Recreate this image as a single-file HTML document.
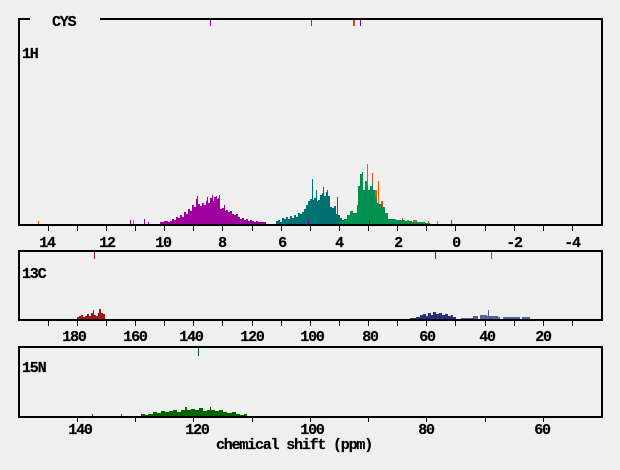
<!DOCTYPE html>
<html>
<head>
<meta charset="utf-8">
<style>
html,body{margin:0;padding:0;background:#efefef;}
svg{display:block;}
text{font-family:"Liberation Mono","DejaVu Sans Mono",monospace;font-weight:bold;font-size:15px;fill:#000;stroke:#000;stroke-width:0.2px;letter-spacing:-1.2px;}
</style>
</head>
<body>
<svg width="620" height="470" viewBox="0 0 620 470" xmlns="http://www.w3.org/2000/svg">
<rect width="620" height="470" fill="#efefef"/>

<g shape-rendering="crispEdges">
<rect x="38" y="221" width="1" height="3" fill="#ff5000"/>
<rect x="130" y="220" width="1" height="4" fill="#a000a0"/>
<rect x="133" y="220" width="1" height="4" fill="#ff5000"/>
<rect x="144" y="219" width="1" height="5" fill="#a000a0"/>
<rect x="148" y="222" width="1" height="2" fill="#a000a0"/>
<rect x="428" y="221" width="1" height="3" fill="#ff5000"/>
<rect x="437" y="221" width="1" height="3" fill="#ff5000"/>
<rect x="451" y="220" width="1" height="4" fill="#007070"/>
</g>

<path fill="#a000a0" shape-rendering="crispEdges" d="M160 224 V222 H164 V221 H168 V222 H170 V221 H172 V219 H174 V220 H176 V217 H178 V218 H180 V215 H182 V217 H184 V212 H186 V214 H188 V209 H190 V211 H192 V205 H194 V207 H196 V199 H198 V204 H200 V206 H202 V203 H204 V205 H206 V201 H208 V203 H210 V198 H212 V201 H214 V197 H216 V199 H218 V198 H220 V209 H222 V208 H224 V211 H226 V210 H228 V212 H230 V211 H232 V214 H234 V215 H236 V214 H238 V217 H240 V219 H242 V218 H244 V220 H246 V219 H248 V221 H250 V220 H252 V221 H254 V222 H256 V221 H258 V222 H266 V224 Z"/>
<g fill="#a000a0" shape-rendering="crispEdges">
<rect x="197" y="196" width="1" height="28"/>
<rect x="207" y="197" width="1" height="27"/>
<rect x="212" y="195" width="1" height="29"/>
<rect x="216" y="196" width="1" height="28"/>
<rect x="219" y="195" width="1" height="29"/>
<rect x="224" y="205" width="1" height="19"/>
</g>

<path fill="#007070" shape-rendering="crispEdges" d="M276 224 V221 H278 V220 H280 V222 H282 V218 H284 V219 H286 V217 H288 V219 H290 V216 H292 V218 H294 V215 H296 V217 H298 V213 H300 V214 H302 V212 H304 V209 H306 V205 H308 V201 H310 V199 H312 V200 H314 V198 H316 V201 H318 V200 H320 V195 H322 V193 H324 V196 H326 V192 H328 V196 H330 V207 H332 V208 H334 V206 H336 V214 H338 V215 H340 V218 H342 V220 H344 V221 H347 V224 Z"/>
<g fill="#007070" shape-rendering="crispEdges">
<rect x="312" y="179" width="1" height="45"/>
<rect x="316" y="190" width="1" height="34"/>
<rect x="323" y="187" width="1" height="37"/>
<rect x="327" y="190" width="1" height="34"/>
<rect x="337" y="197" width="1" height="27"/>
</g>

<g fill="#ff5000" shape-rendering="crispEdges">
<rect x="362" y="185" width="1" height="39"/>
<rect x="367" y="164" width="1" height="60"/>
<rect x="372" y="173" width="1" height="51"/>
<rect x="374" y="190" width="3" height="34"/>
<rect x="378" y="181" width="1" height="43"/>
<rect x="381" y="201" width="2" height="23"/>
<rect x="386" y="216" width="1" height="8"/>
<rect x="395" y="219" width="1" height="5"/>
<rect x="402" y="218" width="1" height="6"/>
<rect x="407" y="220" width="2" height="4"/>
<rect x="413" y="220" width="4" height="4"/>
</g>

<path fill="#009050" shape-rendering="crispEdges" d="M340 224 V221 H344 V219 H347 V215 H350 V211 H353 V213 H357 V205 H358 V186 H360 V174 H362 V190 H365 V181 H367 V186 H368 V190 H370 V186 H372 V182 H373 V190 H375 V197 H377 V203 H379 V204 H382 V207 H385 V213 H388 V219 H395 V220 H405 V221 H412 V222 H425 V223 H430 V224 Z"/>
<rect x="362" y="172" width="1" height="52" fill="#009050"/>
<g fill="#7000b0" shape-rendering="crispEdges">
<rect x="308" y="220" width="1" height="4"/>
<rect x="369" y="220" width="1" height="4"/>
</g>

<g shape-rendering="crispEdges">
<rect x="210" y="20" width="1" height="6" fill="#a000a0"/>
<rect x="311" y="20" width="1" height="6" fill="#007070"/>
<rect x="353" y="20" width="1" height="6" fill="#009050"/>
<rect x="354" y="20" width="1" height="6" fill="#ff5000"/>
<rect x="360" y="20" width="1" height="6" fill="#7000b0"/>
</g>

<path fill="#a01818" shape-rendering="crispEdges" d="M77 320 V317 H79 V316 H81 V315 H83 V317 H85 V316 H87 V314 H89 V316 H91 V313 H93 V310 H94 V315 H96 V316 H98 V313 H99 V309 H101 V313 H103 V314 H105 V320 Z"/>
<rect x="94" y="252" width="1" height="7" fill="#a01818"/>
<path fill="#2c2c80" shape-rendering="crispEdges" d="M410 320 V318 H416 V317 H420 V315 H423 V314 H426 V316 H428 V313 H431 V315 H433 V312 H436 V314 H439 V313 H442 V315 H445 V314 H448 V316 H451 V315 H453 V317 H456 V320 Z"/>
<rect x="435" y="252" width="1" height="7" fill="#2c2c80"/>
<path fill="#50609a" shape-rendering="crispEdges" d="M461 320 V318 H473 V316 H478 V320 H480 V315 H487 V316 H488 V310 H489 V316 H498 V317 H500 V320 H503 V317 H520 V320 H522 V317 H530 V320 Z"/>
<rect x="491" y="252" width="1" height="7" fill="#50609a"/>

<g fill="#006400" shape-rendering="crispEdges">
<rect x="92" y="414" width="1" height="2"/>
<rect x="121" y="414" width="1" height="2"/>
<path d="M141 416 V414 H145 V415 H148 V414 H153 V412 H157 V413 H161 V411 H165 V412 H169 V411 H173 V410 H177 V412 H181 V410 H185 V407 H187 V410 H191 V409 H195 V410 H199 V408 H203 V411 H207 V410 H210 V407 H211 V410 H215 V411 H219 V410 H223 V412 H227 V413 H232 V412 H236 V414 H240 V415 H244 V414 H247 V416 Z"/>
<rect x="198" y="348" width="1" height="8"/>
</g>

<path d="M30 19 H19 V225 H602 V19 H100" fill="none" stroke="#000" stroke-width="2" shape-rendering="crispEdges"/>
<rect x="19" y="251" width="583" height="69" fill="none" stroke="#000" stroke-width="2" shape-rendering="crispEdges"/>
<rect x="19" y="347" width="583" height="70" fill="none" stroke="#000" stroke-width="2" shape-rendering="crispEdges"/>

<g stroke="#000" stroke-width="1" shape-rendering="crispEdges">
<path d="M48.5 226V231 M77.5 226V231 M106.5 226V231 M135.5 226V231 M164.5 226V231 M193.5 226V231 M222.5 226V231 M252.5 226V231 M281.5 226V231 M310.5 226V231 M339.5 226V231 M368.5 226V231 M397.5 226V231 M426.5 226V231 M455.5 226V231 M485.5 226V231 M514.5 226V231 M543.5 226V231 M572.5 226V231"/>
<path d="M48.5 321V326 M77.5 321V326 M106.5 321V326 M135.5 321V326 M164.5 321V326 M193.5 321V326 M222.5 321V326 M252.5 321V326 M281.5 321V326 M310.5 321V326 M339.5 321V326 M368.5 321V326 M397.5 321V326 M426.5 321V326 M455.5 321V326 M485.5 321V326 M514.5 321V326 M543.5 321V326 M572.5 321V326"/>
<path d="M77.5 418V422 M135.5 418V422 M193.5 418V422 M252.5 418V422 M310.5 418V422 M368.5 418V422 M426.5 418V422 M485.5 418V422 M543.5 418V422"/>
</g>

<text x="52" y="26">CYS</text>
<text x="22" y="58">1H</text>
<text x="22" y="278">13C</text>
<text x="22" y="372">15N</text>

<g text-anchor="middle">
<text x="47" y="247">14</text>
<text x="107" y="247">12</text>
<text x="163" y="247">10</text>
<text x="222" y="247">8</text>
<text x="282" y="247">6</text>
<text x="339" y="247">4</text>
<text x="398" y="247">2</text>
<text x="456" y="247">0</text>
<text x="514" y="247">-2</text>
<text x="572" y="247">-4</text>

<text x="74" y="341">180</text>
<text x="135" y="341">160</text>
<text x="191" y="341">140</text>
<text x="252" y="341">120</text>
<text x="312" y="341">100</text>
<text x="370" y="341">80</text>
<text x="427" y="341">60</text>
<text x="487" y="341">40</text>
<text x="543" y="341">20</text>

<text x="80" y="434">140</text>
<text x="197" y="434">120</text>
<text x="312" y="434">100</text>
<text x="426" y="434">80</text>
<text x="542" y="434">60</text>

<text x="294" y="449">chemical shift (ppm)</text>
</g>
</svg>
</body>
</html>
